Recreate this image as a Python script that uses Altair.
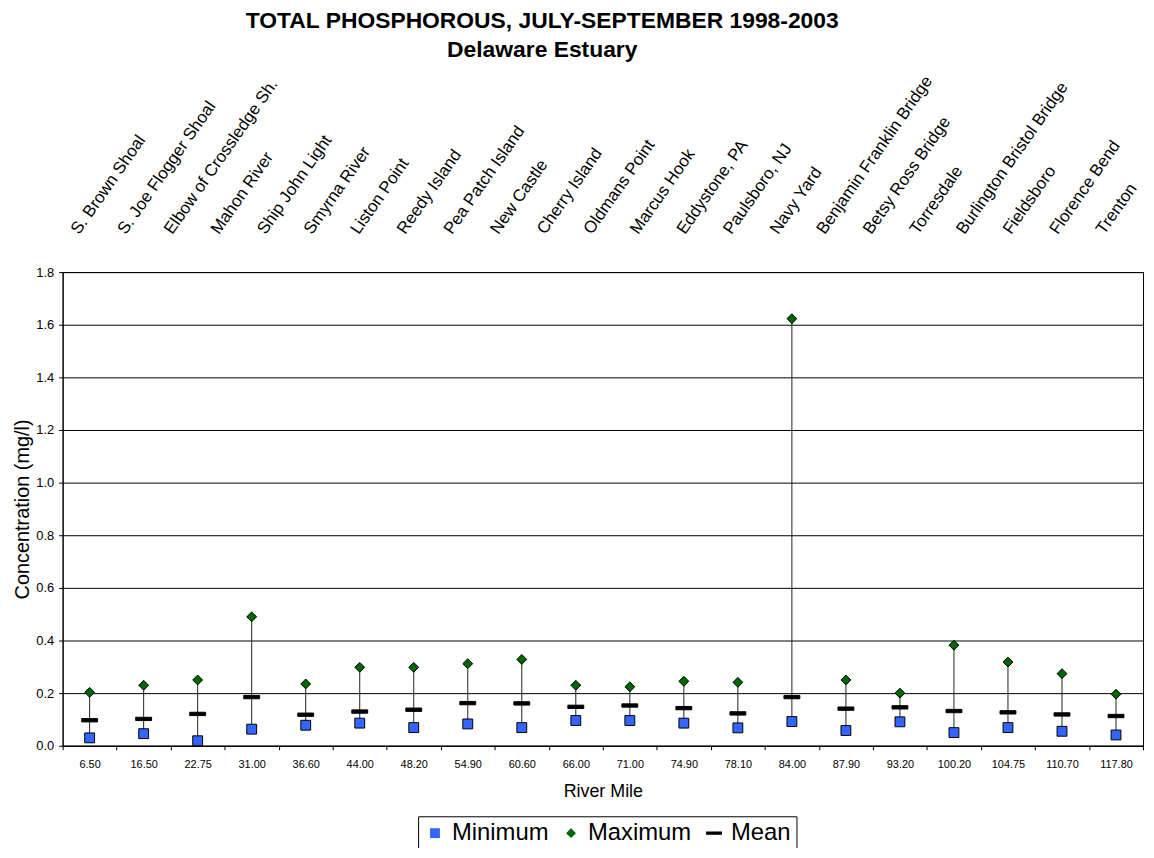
import altair as alt
import pandas as pd

FONT = "Liberation Sans"

river_mile = ["6.50", "16.50", "22.75", "31.00", "36.60", "44.00", "48.20", "54.90",
              "60.60", "66.00", "71.00", "74.90", "78.10", "84.00", "87.90", "93.20",
              "100.20", "104.75", "110.70", "117.80"]
minimum = [0.030, 0.046, 0.019, 0.063, 0.078, 0.086, 0.069, 0.083, 0.069, 0.096,
           0.096, 0.086, 0.068, 0.092, 0.058, 0.091, 0.050, 0.069, 0.055, 0.041]
maximum = [0.203, 0.230, 0.250, 0.490, 0.235, 0.298, 0.298, 0.312, 0.328, 0.230,
           0.224, 0.245, 0.241, 1.623, 0.250, 0.200, 0.382, 0.318, 0.274, 0.196]
mean = [0.097, 0.102, 0.121, 0.185, 0.118, 0.130, 0.137, 0.162, 0.161, 0.148,
        0.153, 0.143, 0.123, 0.185, 0.141, 0.146, 0.132, 0.127, 0.119, 0.113]
stations = ["S. Brown Shoal", "S. Joe Flogger Shoal", "Elbow of Crossledge Sh.",
            "Mahon River", "Ship John Light", "Smyrna River", "Liston Point",
            "Reedy Island", "Pea Patch Island", "New Castle", "Cherry Island",
            "Oldmans Point", "Marcus Hook", "Eddystone, PA", "Paulsboro, NJ",
            "Navy Yard", "Benjamin Franklin Bridge", "Betsy Ross Bridge",
            "Torresdale", "Burlington Bristol Bridge", "Fieldsboro",
            "Florence Bend", "Trenton"]
series = ["Minimum", "Maximum", "Mean"]

wide = pd.DataFrame({"mile": river_mile, "min": minimum, "max": maximum, "mean": mean})
long_rows = []
for name, vals in zip(series, [minimum, maximum, mean]):
    for m, v in zip(river_mile, vals):
        long_rows.append({"mile": m, "series": name, "value": v})
long = pd.DataFrame(long_rows)
labels_df = pd.DataFrame({"station": stations, "idx": list(range(len(stations)))})

x_enc = alt.X(
    "mile:O", sort=river_mile,
    scale=alt.Scale(paddingInner=0, paddingOuter=0),
    axis=alt.Axis(labelAngle=0, tickBand="extent", tickSize=4, labelFontSize=11,
                  title="River Mile", titleFontSize=18, labelPadding=9,
                  titlePadding=13, grid=False, labelOverlap=False),
)
y_scale = alt.Scale(domain=[0, 1.8], nice=False)
y_axis = alt.Axis(values=[0, 0.2, 0.4, 0.6, 0.8, 1.0, 1.2, 1.4, 1.6, 1.8], format=".1f",
                  grid=True, gridColor="black", gridWidth=1, tickSize=4,
                  labelFontSize=13, titleFontSize=20, title="Concentration (mg/l)",
                  labelPadding=5, titlePadding=3)

rules = alt.Chart(wide).mark_rule(color="#222222", strokeWidth=1).encode(
    x=x_enc,
    y=alt.Y("min:Q", scale=y_scale, axis=y_axis),
    y2="max:Q",
)

SYM = 256
square_path = "M-0.62,-0.62H0.62V0.62H-0.62Z"
diamond_path = "M0,-0.62L0.62,0L0,0.62L-0.62,0Z"
mean_path = "M-1,-0.21H1V0.21H-1Z"

leg = alt.Legend(orient="none", legendX=358, legendY=548, direction="horizontal",
                 title=None, labelFontSize=24, labelFont=FONT, labelColor="black",
                 strokeColor="black", padding=5, columnPadding=10, labelOffset=5,
                 symbolSize=SYM, symbolStrokeColor="black", symbolStrokeWidth=1,
                 fillColor="white")

points = alt.Chart(long).mark_point(
    filled=True, stroke="black", strokeWidth=1, opacity=1, size=SYM
).encode(
    x=x_enc,
    y=alt.Y("value:Q", scale=y_scale, axis=y_axis),
    shape=alt.Shape("series:N", sort=series,
                    scale=alt.Scale(domain=series, range=[square_path, diamond_path, mean_path]),
                    legend=leg),
    fill=alt.Fill("series:N", sort=series,
                  scale=alt.Scale(domain=series, range=["#3366FF", "#006600", "#000000"]),
                  legend=leg),
)

labels = alt.Chart(labels_df).mark_text(
    align="left", baseline="alphabetic", angle=305, fontSize=17, font=FONT, color="black"
).encode(
    x=alt.X("idx:Q", scale=alt.Scale(domain=[-0.354, 22.83], nice=False, zero=False), axis=None),
    y=alt.value(-37),
    text="station:N",
)

main = alt.layer(rules, points)

chart = alt.layer(main, labels).resolve_scale(
    x="independent"
).properties(
    width=1088,
    height=477,
    padding={"left": 55, "top": 263, "right": 3, "bottom": 100},
    autosize=alt.AutoSizeParams(type="none"),
    title=alt.TitleParams(
        text=["TOTAL PHOSPHOROUS, JULY-SEPTEMBER 1998-2003", "Delaware Estuary"],
        fontSize=23, fontWeight="bold", font=FONT, anchor="middle", frame="group",
        dx=-61, offset=11, lineHeight=29, color="black",
    ),
).configure_view(
    stroke="black", strokeWidth=1
).configure_axis(
    labelFont=FONT, titleFont=FONT, labelColor="black", titleColor="black",
    domainColor="black", tickColor="black", titleFontWeight="normal"
)

chart.save("out.html", embed_options={"renderer": "svg", "actions": False})
